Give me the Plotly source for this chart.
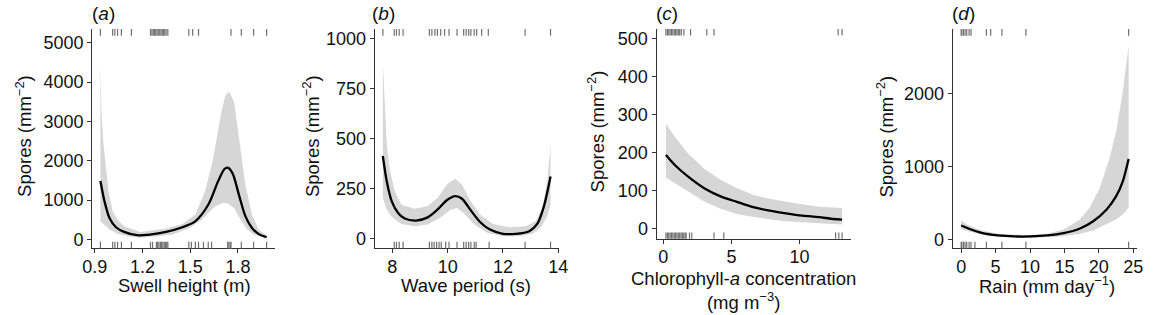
import plotly.graph_objects as go

W, H = 1157, 315

# ---------------- (a) Swell height ----------------
swell_fit_x = [0.935, 0.961, 0.992, 1.033, 1.084, 1.165, 1.246, 1.348, 1.450, 1.531, 1.613, 1.674, 1.715, 1.735, 1.766, 1.806, 1.847, 1.888, 1.929, 1.980]
swell_fit = [1487, 966, 546, 311, 193, 109, 126, 193, 311, 462, 882, 1470, 1790, 1823, 1680, 1134, 588, 294, 143, 59]
swell_up_x = [0.935, 0.941, 0.953, 0.965, 0.986, 1.012, 1.043, 1.084, 1.185, 1.348, 1.450, 1.531, 1.593, 1.644, 1.695, 1.720, 1.745, 1.776, 1.806, 1.847, 1.888, 1.929, 1.980]
swell_up = [4412, 3320, 2480, 2059, 1218, 714, 504, 336, 193, 277, 395, 630, 1218, 2059, 3235, 3650, 3756, 3487, 2647, 1387, 630, 252, 100]
swell_lo_x = [0.935, 0.961, 0.992, 1.043, 1.124, 1.185, 1.287, 1.389, 1.491, 1.572, 1.654, 1.705, 1.735, 1.776, 1.817, 1.858, 1.898, 1.980]
swell_lo = [462, 378, 252, 143, 67, 42, 76, 126, 277, 504, 840, 924, 916, 798, 504, 252, 126, 25]
swell_rug_top = [0.935, 1.012, 1.026, 1.043, 1.067, 1.130, 1.250, 1.259, 1.267, 1.275, 1.283, 1.291, 1.299, 1.308,
                 1.316, 1.324, 1.332, 1.340, 1.348, 1.359, 1.491, 1.515, 1.552, 1.756, 1.821, 1.898, 1.980]
swell_rug_bottom = [0.935, 1.012, 1.026, 1.043, 1.067, 1.130, 1.250, 1.263, 1.287, 1.295, 1.303, 1.312, 1.320, 1.328,
                    1.336, 1.344, 1.352, 1.359, 1.491, 1.507, 1.532, 1.552, 1.583, 1.613, 1.634, 1.735, 1.743,
                    1.751, 1.756, 1.821, 1.898, 1.980]
swell_xticks = [0.9, 1.2, 1.5, 1.8]
swell_yticks = [0, 1000, 2000, 3000, 4000, 5000]

# ---------------- (b) Wave period ----------------
wave_fit_x = [7.657, 7.80, 7.98, 8.21, 8.45, 8.86, 9.28, 9.63, 9.99, 10.28, 10.52, 10.82, 11.17, 11.53, 12.0, 12.47, 12.95, 13.24, 13.48, 13.72]
wave_fit = [413, 286, 187, 129, 101, 91, 107, 145, 195, 213, 200, 145, 84, 46, 25, 25, 38, 74, 162, 311]
wave_up_x = [7.657, 7.716, 7.80, 7.92, 8.09, 8.33, 8.80, 9.28, 9.63, 9.99, 10.28, 10.52, 10.82, 11.17, 11.64, 12.24, 12.83, 13.18, 13.42, 13.60, 13.72]
wave_up = [881, 683, 468, 336, 236, 170, 150, 162, 203, 273, 299, 269, 190, 121, 74, 58, 63, 88, 154, 286, 468]
wave_lo_x = [7.657, 7.80, 7.98, 8.33, 8.80, 9.28, 9.75, 10.11, 10.34, 10.58, 10.94, 11.42, 12.0, 12.59, 13.07, 13.36, 13.60, 13.72]
wave_lo = [203, 145, 109, 74, 63, 71, 107, 145, 154, 129, 74, 30, 13, 13, 25, 55, 112, 170]
wave_rug_top = [7.66, 8.07, 8.15, 8.25, 8.39, 9.34, 9.43, 9.54, 9.63, 9.75, 9.89, 10.05, 10.34, 10.58, 10.67,
                10.76, 10.84, 10.96, 11.05, 11.23, 11.47, 12.80, 13.72]
wave_rug_bottom = [8.07, 8.15, 8.25, 8.39, 9.34, 9.43, 9.51, 9.60, 9.69, 9.77, 9.93, 10.05, 10.34, 10.58, 10.67,
                   10.76, 10.84, 10.96, 11.03, 11.50, 12.80, 13.72]
wave_xticks = [8, 10, 12, 14]
wave_yticks = [0, 250, 500, 750, 1000]

# ---------------- (c) Chlorophyll-a ----------------
chl_fit_x = [0.19, 0.84, 1.80, 3.0, 4.2, 5.4, 6.6, 7.8, 9.0, 10.2, 11.4, 12.47, 13.12]
chl_fit = [193, 167, 137, 106, 84.5, 70, 56, 47, 40, 34, 30, 25, 23.5]
chl_up_x = [0.19, 0.84, 1.80, 3.0, 4.2, 5.4, 6.6, 7.8, 9.0, 10.2, 11.4, 13.12]
chl_up = [276, 241, 198, 157, 128, 106, 89, 78, 70, 63, 57, 54]
chl_lo_x = [0.19, 0.84, 1.80, 3.0, 4.2, 5.4, 6.6, 7.8, 9.0, 10.2, 11.4, 13.12]
chl_lo = [134, 119, 98, 71, 52, 38, 30, 24, 19, 16, 14, 10.5]
chl_rug_top = [0.19, 0.3, 0.4, 0.5, 0.6, 0.7, 0.8, 0.9, 1.0, 1.1, 1.2, 1.32, 1.51, 2.0, 3.19, 3.72, 12.83, 13.12]
chl_rug_bottom = [0.19, 0.3, 0.4, 0.5, 0.6, 0.7, 0.8, 0.9, 1.0, 1.1, 1.2, 1.3, 1.4, 1.5, 1.6, 1.68, 1.92, 2.09,
                  3.72, 4.44, 12.64, 12.88, 13.12]
chl_xticks = [0, 5, 10]
chl_yticks = [0, 100, 200, 300, 400, 500]

# ---------------- (d) Rain ----------------
rain_fit_x = [0, 1.05, 2.96, 5.34, 7.73, 10.11, 12.5, 14.9, 17.27, 19.18, 21.1, 22.5, 23.47, 24.33]
rain_fit = [191, 150, 91, 55, 41, 41, 55, 86, 150, 250, 409, 591, 795, 1105]
rain_up_x = [0, 1.05, 2.96, 5.34, 10.11, 12.5, 14.9, 17.27, 18.7, 20.13, 21.56, 22.5, 23.47, 24.33]
rain_up = [259, 195, 123, 77, 59, 77, 136, 273, 441, 705, 1114, 1477, 2023, 2659]
rain_lo_x = [0, 1.05, 2.96, 5.34, 10.11, 12.5, 14.9, 17.27, 19.18, 21.1, 22.5, 23.47, 24.33]
rain_lo = [136, 114, 68, 36, 23, 32, 45, 77, 123, 205, 273, 341, 441]
rain_rug_top = [0, 0.1, 0.33, 0.57, 0.81, 1.15, 1.43, 3.67, 4.29, 5.92, 9.40, 24.33]
rain_rug_bottom = [0, 0.1, 0.33, 0.57, 0.81, 1.15, 1.43, 2.0, 3.67, 5.92, 9.40, 24.33]
rain_xticks = [0, 5, 10, 15, 20, 25]
rain_yticks = [0, 1000, 2000]

FONT = "Liberation Sans, Arial, sans-serif"
BAND = "#d6d6d6"
RUG = "#707070"
AX = "#333333"
TXT = "#111111"
TICK_SIZE = 18
TITLE_SIZE = 18.5

panels = [
    dict(fx=swell_fit_x, fy=swell_fit, ux=swell_up_x, uy=swell_up, lx=swell_lo_x, ly=swell_lo,
         rt=swell_rug_top, rb=swell_rug_bottom, xt=swell_xticks, yt=swell_yticks, xfmt=".1f",
         xr=[0.883, 2.032], yr=[-227, 5344], px=[83.5, 269.3], py=[28.3, 249]),
    dict(fx=wave_fit_x, fy=wave_fit, ux=wave_up_x, uy=wave_up, lx=wave_lo_x, ly=wave_lo,
         rt=wave_rug_top, rb=wave_rug_bottom, xt=wave_xticks, yt=wave_yticks, xfmt="",
         xr=[7.36, 14.02], yr=[-48, 1046], px=[370.7, 558.0], py=[28.3, 249]),
    dict(fx=chl_fit_x, fy=chl_fit, ux=chl_up_x, uy=chl_up, lx=chl_lo_x, ly=chl_lo,
         rt=chl_rug_top, rb=chl_rug_bottom, xt=chl_xticks, yt=chl_yticks, xfmt="",
         xr=[-0.5, 13.77], yr=[-27, 524], px=[657.3, 855.0], py=[28.3, 239.3]),
    dict(fx=rain_fit_x, fy=rain_fit, ux=rain_up_x, uy=rain_up, lx=rain_lo_x, ly=rain_lo,
         rt=rain_rug_top, rb=rain_rug_bottom, xt=rain_xticks, yt=rain_yticks, xfmt="",
         xr=[-1.25, 25.5], yr=[-123, 2888], px=[958.3, 1145.5], py=[28.3, 249]),
]

fig = go.Figure()
layout = dict(width=W, height=H, autosize=False, margin=dict(l=0, r=0, t=0, b=0),
              plot_bgcolor="white", paper_bgcolor="white", showlegend=False,
              font=dict(family=FONT, size=TICK_SIZE, color=TXT))
shapes = []
for i, p in enumerate(panels):
    n = "" if i == 0 else str(i + 1)
    xa, ya = "x" + n, "y" + n
    # confidence band
    fig.add_trace(go.Scatter(x=p["ux"] + p["lx"][::-1], y=p["uy"] + p["ly"][::-1], fill="toself",
                             fillcolor=BAND, line=dict(width=0, color=BAND), mode="lines",
                             xaxis=xa, yaxis=ya, hoverinfo="skip"))
    # fitted line
    fig.add_trace(go.Scatter(x=p["fx"], y=p["fy"], mode="lines",
                             line=dict(color="black", width=2.3, shape="spline", smoothing=0.8),
                             xaxis=xa, yaxis=ya))
    for v in p["rt"]:
        shapes.append(dict(type="line", xref=xa, yref=ya + " domain", x0=v, x1=v, y0=0.97, y1=1.0,
                           line=dict(color=RUG, width=1.2)))
    for v in p["rb"]:
        shapes.append(dict(type="line", xref=xa, yref=ya + " domain", x0=v, x1=v, y0=0.0, y1=0.03,
                           line=dict(color=RUG, width=1.2)))
    common = dict(showgrid=False, zeroline=False, showline=True, linecolor=AX, linewidth=1,
                  ticks="outside", ticklen=4, tickcolor=AX, tickwidth=1,
                  tickfont=dict(family=FONT, size=TICK_SIZE, color=TXT))
    layout["xaxis" + n] = dict(domain=[p["px"][0] / W, p["px"][1] / W], range=p["xr"], anchor=ya,
                               tickvals=p["xt"], tickformat=p["xfmt"], ticklabelstandoff=-2, **common)
    layout["yaxis" + n] = dict(domain=[1 - p["py"][1] / H, 1 - p["py"][0] / H], range=p["yr"], anchor=xa,
                               tickvals=p["yt"], **common)

layout["shapes"] = shapes

def ann(text, x, y, angle=0, size=TITLE_SIZE):
    return dict(text=text, x=x / W, y=1 - y / H, xref="paper", yref="paper", showarrow=False,
                xanchor="center", yanchor="middle", textangle=angle,
                font=dict(family=FONT, size=size, color=TXT))

ytitle = "Spores (mm<sup>−2</sup>)"
annotations = [
    ann("(<i>a</i>)", 95, 13, size=19), ann("(<i>b</i>)", 380, 13, size=19),
    ann("(<i>c</i>)", 668, 13, size=19), ann("(<i>d</i>)", 969, 13, size=19),
    ann(ytitle, 14, 136, -90), ann(ytitle, 306, 136, -90),
    ann(ytitle, 596, 131, -90), ann(ytitle, 890, 136, -90),
    ann("Swell height (m)", 177, 286), ann("Wave period (s)", 464, 286),
    ann("Chlorophyll-<i>a</i> concentration<br>(mg m<sup>−3</sup>)", 746, 291),
    ann("Rain (mm day<sup>−1</sup>)", 1054, 286),
]
layout["annotations"] = annotations
fig.update_layout(**layout)
fig.write_html("out.html", config={"displayModeBar": False, "staticPlot": True},
               post_script="document.body.style.margin='0px';document.body.style.overflow='hidden';")
